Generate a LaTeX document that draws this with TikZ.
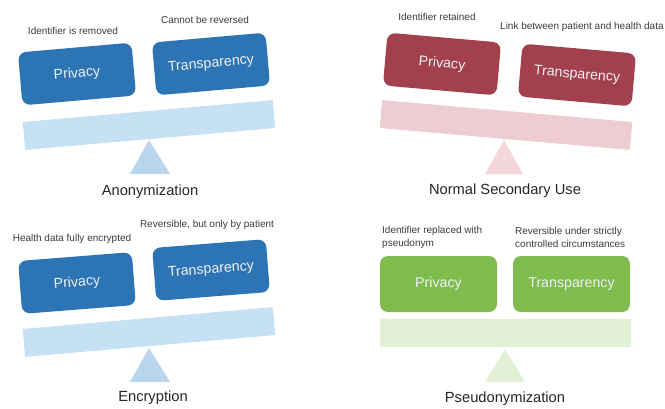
\documentclass[tikz,border=0pt]{standalone}
\usepackage{fontspec}
\setmainfont{Liberation Sans}

\definecolor{anonblue}{HTML}{2D74B5}
\definecolor{anonbeam}{HTML}{C6E0F4}
\definecolor{anonbase}{HTML}{B9D6EE}
\definecolor{usered}{HTML}{A3404D}
\definecolor{usebeam}{HTML}{EDCDD1}
\definecolor{usebase}{HTML}{F3D7DA}
\definecolor{pseudogreen}{HTML}{80BB4E}
\definecolor{pseudobeam}{HTML}{E2F0D6}
\definecolor{notegray}{HTML}{3A3A3A}
\definecolor{boxtext}{HTML}{EEF2F4}

\begin{document}
\begin{tikzpicture}[x=1pt, y=-1pt,
  box/.style={rounded corners=8pt, minimum width=114pt, minimum height=53pt, inner sep=0pt, text=boxtext, font=\fontsize{14.2}{16}\selectfont},
  beam/.style={minimum width=251pt, minimum height=28pt, inner sep=0pt},
  note/.style={text=notegray, font=\fontsize{10}{13}\selectfont, inner sep=0pt},
  caption/.style={text=black!85, font=\fontsize{14.7}{17}\selectfont, inner sep=0pt}]
\useasboundingbox (0,0) rectangle (665,408);

% Anonymization
\fill[anonbase] (149,140) -- (130,174) -- (170,174) -- cycle;
\node[beam, fill=anonbeam, rotate=5] (anonbeam) at (149,125) {};
\node[box, fill=anonblue, rotate=5] (anonpriv) at (77,74) {Privacy};
\node[box, fill=anonblue, rotate=5] (anontrans) at (211,64) {Transparency};
\node[note] (anonprivnote) at (73,31) {Identifier is removed};
\node[note] (anontransnote) at (205,20) {Cannot be reversed};
\node[caption] (anoncap) at (150,192) {Anonymization};

% Normal secondary use
\fill[usebase] (504,140) -- (485,174) -- (523,174) -- cycle;
\node[beam, fill=usebeam, rotate=-5] (usebeam) at (506,125) {};
\node[box, fill=usered, rotate=-5] (usepriv) at (442,64) {Privacy};
\node[box, fill=usered, rotate=-5] (usetrans) at (577,75) {Transparency};
\node[note] (useprivnote) at (437,17) {Identifier retained};
\node[note, anchor=west] (usetransnote) at (500,27) {Link between patient and health data};
\node[caption] (usecap) at (505,191) {Normal Secondary Use};

% Encryption
\fill[anonbase] (149,348) -- (130,382) -- (170,382) -- cycle;
\node[beam, fill=anonbeam, rotate=5] (encbeam) at (149,332) {};
\node[box, fill=anonblue, rotate=4.5] (encpriv) at (77,283) {Privacy};
\node[box, fill=anonblue, rotate=4.5] (enctrans) at (211,270) {Transparency};
\node[note] (encprivnote) at (72,239) {Health data fully encrypted};
\node[note] (enctransnote) at (207,225) {Reversible, but only by patient};
\node[caption] (enccap) at (153,398) {Encryption};

% Pseudonymization
\fill[pseudobeam] (505,349) -- (485,382) -- (525,382) -- cycle;
\node[beam, fill=pseudobeam] (pseudobeam) at (505,333) {};
\node[box, fill=pseudogreen, minimum width=117pt, minimum height=56pt] (pseudopriv) at (438.5,284) {Privacy};
\node[box, fill=pseudogreen, minimum width=117pt, minimum height=56pt] (pseudotrans) at (571.5,284) {Transparency};
\node[note, anchor=west, align=left] (pseudoprivnote) at (382,237.5) {Identifier replaced with\\pseudonym};
\node[note, anchor=west, align=left] (pseudotransnote) at (515,237.5) {Reversible under strictly\\controlled circumstances};
\node[caption] (pseudocap) at (505,399) {Pseudonymization};
\end{tikzpicture}
\end{document}
